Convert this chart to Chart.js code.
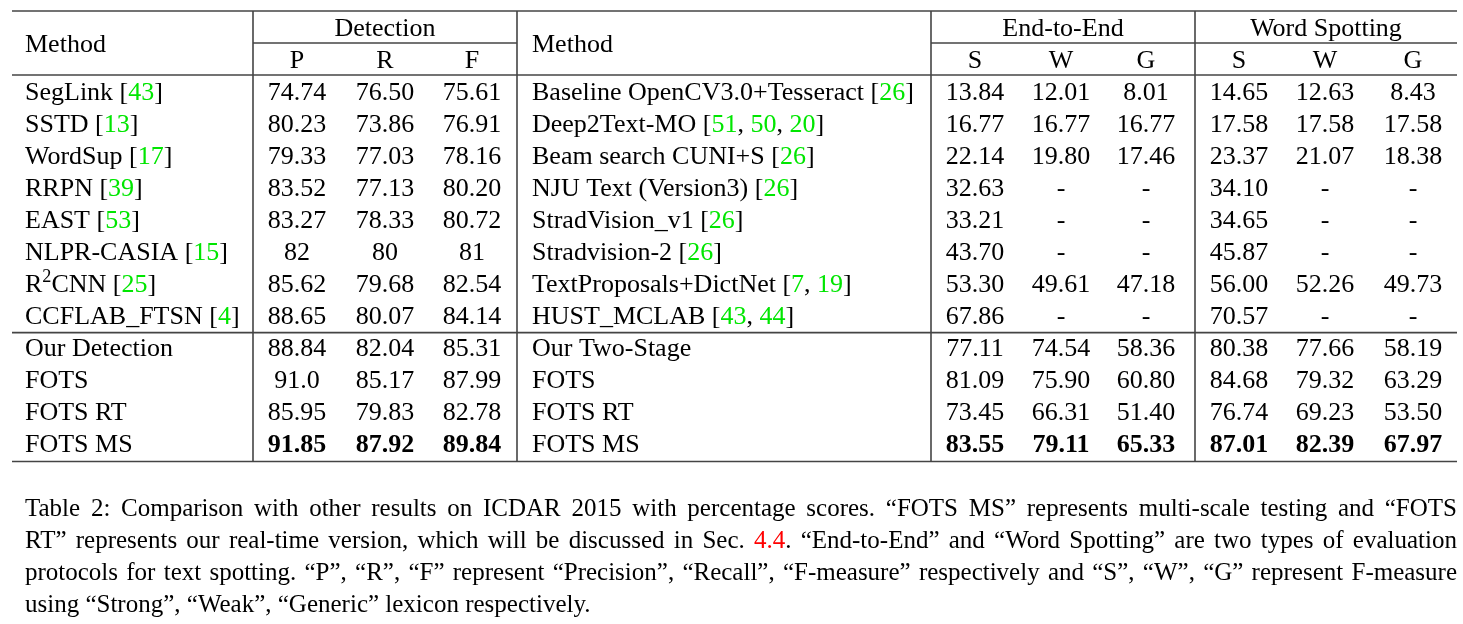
<!DOCTYPE html>
<html>
<head>
<meta charset="utf-8">
<script src="https://cdn.jsdelivr.net/npm/chart.js@4.4.0/dist/chart.umd.min.js"></script>
<style>
  html, body { margin: 0; padding: 0; background: #fff; }
  #wrap { width: 1463px; height: 624px; }
</style>
</head>
<body>
<div id="wrap"><canvas id="tabla"></canvas></div>
<script>
// Detection (left part)
const detMethods = ['SegLink', 'SSTD', 'WordSup', 'RRPN', 'EAST', 'NLPR-CASIA', 'R^2CNN', 'CCFLAB_FTSN',
  'Our Detection', 'FOTS', 'FOTS RT', 'FOTS MS'];
const detCites = [[43], [13], [17], [39], [53], [15], [25], [4], [], [], [], []];
const detP = ['74.74', '80.23', '79.33', '83.52', '83.27', '82', '85.62', '88.65', '88.84', '91.0', '85.95', '91.85'];
const detR = ['76.50', '73.86', '77.03', '77.13', '78.33', '80', '79.68', '80.07', '82.04', '85.17', '79.83', '87.92'];
const detF = ['75.61', '76.91', '78.16', '80.20', '80.72', '81', '82.54', '84.14', '85.31', '87.99', '82.78', '89.84'];

// End-to-End / Word Spotting (right part)
const e2eMethods = ['Baseline OpenCV3.0+Tesseract', 'Deep2Text-MO', 'Beam search CUNI+S', 'NJU Text (Version3)',
  'StradVision_v1', 'Stradvision-2', 'TextProposals+DictNet', 'HUST_MCLAB',
  'Our Two-Stage', 'FOTS', 'FOTS RT', 'FOTS MS'];
const e2eCites = [[26], [51, 50, 20], [26], [26], [26], [26], [7, 19], [43, 44], [], [], [], []];
const e2eS = ['13.84', '16.77', '22.14', '32.63', '33.21', '43.70', '53.30', '67.86', '77.11', '81.09', '73.45', '83.55'];
const e2eW = ['12.01', '16.77', '19.80', '-', '-', '-', '49.61', '-', '74.54', '75.90', '66.31', '79.11'];
const e2eG = ['8.01', '16.77', '17.46', '-', '-', '-', '47.18', '-', '58.36', '60.80', '51.40', '65.33'];
const wsS = ['14.65', '17.58', '23.37', '34.10', '34.65', '45.87', '56.00', '70.57', '80.38', '84.68', '76.74', '87.01'];
const wsW = ['12.63', '17.58', '21.07', '-', '-', '-', '52.26', '-', '77.66', '79.32', '69.23', '82.39'];
const wsG = ['8.43', '17.58', '18.38', '-', '-', '-', '49.73', '-', '58.19', '63.29', '53.50', '67.97'];

const grupos = ['Detection', 'End-to-End', 'Word Spotting'];
const subCols = ['P', 'R', 'F', 'S', 'W', 'G', 'S', 'W', 'G'];
const filaNegrita = 11;

const caption = [
  'Table 2: Comparison with other results on ICDAR 2015 with percentage scores. “FOTS MS” represents multi-scale testing and “FOTS',
  'RT” represents our real-time version, which will be discussed in Sec. {4.4}. “End-to-End” and “Word Spotting” are two types of evaluation',
  'protocols for text spotting. “P”, “R”, “F” represent “Precision”, “Recall”, “F-measure” respectively and “S”, “W”, “G” represent F-measure',
  'using “Strong”, “Weak”, “Generic” lexicon respectively.'
];

// layout (pixel positions on the x scale, row units on the y scale)
const COLX = { m1: 25, p: 297, r: 385, f: 472, m2: 532, s: 975, w: 1061, g: 1146, s2: 1239, w2: 1325, g2: 1413 };
const GRUPOX = [385, 1063, 1326];
const VLINEAS = [253, 517, 931, 1195];
const IZQ = 12, DER = 1457;
const FUENTE = '"Liberation Serif", "Times New Roman", serif';
const TAM = 26;
const VERDE = '#00e600';

function fuente(bold, size) {
  return (bold ? 'bold ' : '') + size + 'px ' + FUENTE;
}

function partesNombre(nombre, cites) {
  const segs = [];
  const trozos = nombre.split('^');
  segs.push({ t: trozos[0] });
  for (let i = 1; i < trozos.length; i++) {
    segs.push({ t: trozos[i][0], sup: true });
    segs.push({ t: trozos[i].slice(1) });
  }
  if (cites.length) {
    segs.push({ t: ' [' });
    cites.forEach((c, i) => {
      if (i > 0) segs.push({ t: ', ' });
      segs.push({ t: String(c), color: VERDE });
    });
    segs.push({ t: ']' });
  }
  return segs;
}

function dibujarRico(ctx, segs, x, y, align, bold) {
  let total = 0;
  segs.forEach(s => {
    ctx.font = fuente(bold, s.sup ? TAM * 0.7 : TAM);
    s.w = ctx.measureText(s.t).width;
    total += s.w;
  });
  let cx = align === 'center' ? x - total / 2 : x;
  segs.forEach(s => {
    ctx.font = fuente(bold, s.sup ? TAM * 0.7 : TAM);
    ctx.fillStyle = s.color || '#000';
    ctx.fillText(s.t, cx, s.sup ? y - TAM * 0.38 : y);
    cx += s.w;
  });
}

const tablaPlugin = {
  id: 'tabla',
  afterDraw(chart) {
    const ctx = chart.ctx;
    const sx = v => chart.scales.x.getPixelForValue(v);
    const sy = v => chart.scales.y.getPixelForValue(v);
    const base = 9; // center -> alphabetic baseline

    ctx.save();
    ctx.textBaseline = 'alphabetic';
    ctx.textAlign = 'left';

    // rules
    ctx.strokeStyle = '#444';
    ctx.lineWidth = 1.6;
    const hline = (r, x0, x1) => {
      ctx.beginPath(); ctx.moveTo(sx(x0), sy(r)); ctx.lineTo(sx(x1), sy(r)); ctx.stroke();
    };
    hline(-2.5, IZQ, DER);
    hline(-1.5, VLINEAS[0], VLINEAS[1]);
    hline(-1.5, VLINEAS[2], DER);
    hline(-0.5, IZQ, DER);
    hline(7.55, IZQ, DER);
    hline(11.58, IZQ, DER);
    VLINEAS.forEach(x => {
      ctx.beginPath(); ctx.moveTo(sx(x), sy(-2.5)); ctx.lineTo(sx(x), sy(11.58)); ctx.stroke();
    });

    // headers
    dibujarRico(ctx, [{ t: 'Method' }], sx(COLX.m1), sy(-1.5) + base, 'left', false);
    dibujarRico(ctx, [{ t: 'Method' }], sx(COLX.m2), sy(-1.5) + base, 'left', false);
    grupos.forEach((g, i) => dibujarRico(ctx, [{ t: g }], sx(GRUPOX[i]), sy(-2) + base, 'center', false));
    const subX = [COLX.p, COLX.r, COLX.f, COLX.s, COLX.w, COLX.g, COLX.s2, COLX.w2, COLX.g2];
    subCols.forEach((c, i) => dibujarRico(ctx, [{ t: c }], sx(subX[i]), sy(-1) + base, 'center', false));

    // body
    const colsDatos = [
      [COLX.p, detP], [COLX.r, detR], [COLX.f, detF],
      [COLX.s, e2eS], [COLX.w, e2eW], [COLX.g, e2eG],
      [COLX.s2, wsS], [COLX.w2, wsW], [COLX.g2, wsG]
    ];
    detMethods.forEach((m, i) => {
      const y = sy(i) + base;
      dibujarRico(ctx, partesNombre(m, detCites[i]), sx(COLX.m1), y, 'left', false);
      dibujarRico(ctx, partesNombre(e2eMethods[i], e2eCites[i]), sx(COLX.m2), y, 'left', false);
      colsDatos.forEach(([x, arr]) => {
        dibujarRico(ctx, [{ t: arr[i] }], sx(x), y, 'center', i === filaNegrita);
      });
    });

    // caption, justified
    const capTam = 25;
    caption.forEach((linea, li) => {
      const y = sy(13 + li) + base;
      const palabras = linea.split(' ').map(p => {
        const segs = [];
        const re = /\{([^}]*)\}/g;
        let ult = 0, m;
        while ((m = re.exec(p))) {
          if (m.index > ult) segs.push({ t: p.slice(ult, m.index) });
          segs.push({ t: m[1], color: '#ff0000' });
          ult = re.lastIndex;
        }
        if (ult < p.length) segs.push({ t: p.slice(ult) });
        return segs;
      });
      ctx.font = capTam + 'px ' + FUENTE;
      const esp = ctx.measureText(' ').width;
      let ancho = 0;
      palabras.forEach(segs => segs.forEach(s => { s.w = ctx.measureText(s.t).width; ancho += s.w; }));
      const objetivo = sx(DER) - sx(25);
      const huecos = palabras.length - 1;
      let escala = 1, hueco = esp;
      const justificar = li < caption.length - 1;
      if (justificar) {
        hueco = (objetivo - ancho) / huecos;
        if (hueco < esp * 0.6) {
          escala = objetivo / (ancho + esp * 0.6 * huecos);
          hueco = esp * 0.6;
        }
      }
      ctx.save();
      ctx.translate(sx(25), y);
      ctx.scale(escala, 1);
      let cx = 0;
      palabras.forEach(segs => {
        segs.forEach(s => {
          ctx.fillStyle = s.color || '#000';
          ctx.fillText(s.t, cx, 0);
          cx += s.w;
        });
        cx += hueco;
      });
      ctx.restore();
    });

    ctx.restore();
  }
};

new Chart(document.getElementById('tabla').getContext('2d'), {
  type: 'scatter',
  data: { datasets: [{ data: [], pointRadius: 0 }] },
  options: {
    responsive: true,
    maintainAspectRatio: false,
    animation: false,
    events: [],
    layout: { padding: 0 },
    plugins: { legend: { display: false }, tooltip: { enabled: false } },
    scales: {
      x: { type: 'linear', min: 0, max: 1463, display: false },
      y: { type: 'linear', min: -91 / 32, max: (624 - 91) / 32, reverse: true, display: false }
    }
  },
  plugins: [tablaPlugin]
});
</script>
</body>
</html>
